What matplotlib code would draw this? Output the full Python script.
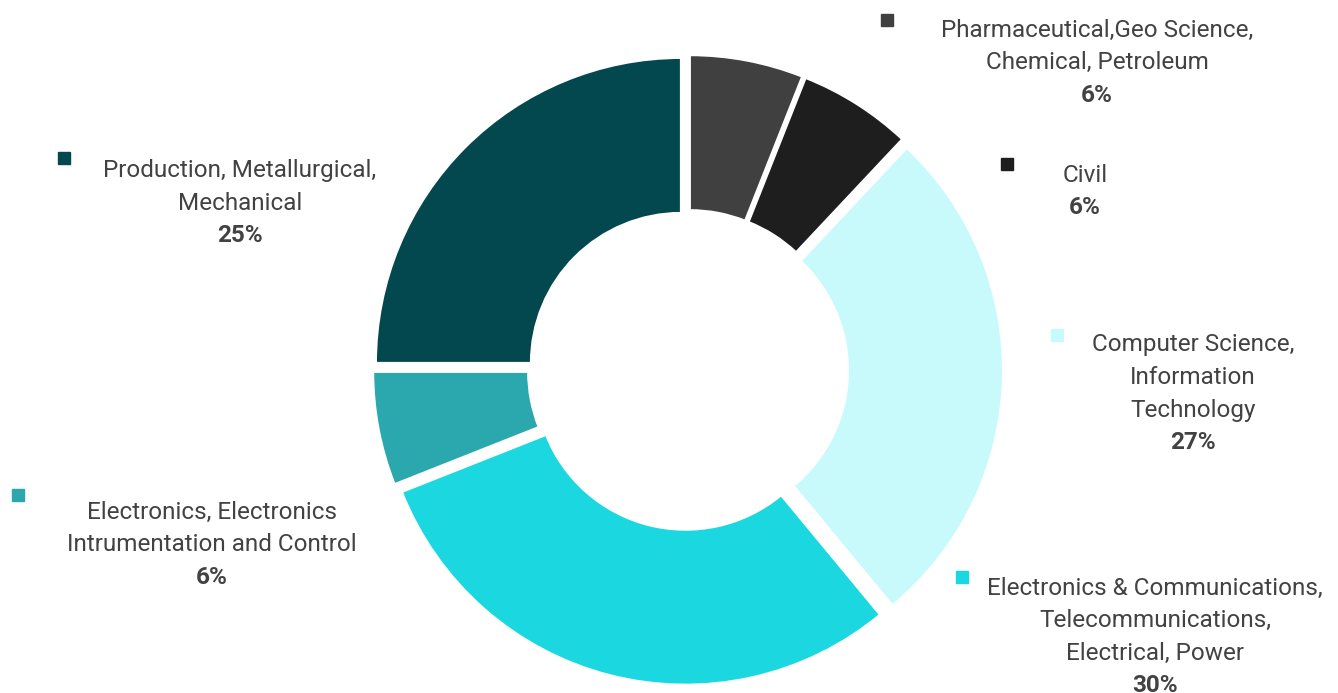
import matplotlib.pyplot as plt

plt.rcParams['font.family'] = ['Roboto', 'DejaVu Sans']

categories = ['Pharmaceutical,Geo Science,\nChemical, Petroleum',
              'Civil',
              'Computer Science,\nInformation\nTechnology',
              'Electronics & Communications,\nTelecommunications,\nElectrical, Power',
              'Electronics, Electronics\nIntrumentation and Control',
              'Production, Metallurgical,\nMechanical']
values = [6, 6, 27, 30, 6, 25]
colors = ['#404040', '#1e1e1e', '#c8fafc', '#1bd8e0', '#2aa8ae', '#02484e']

# layout in pixels (top-left origin): text centre x, first line y, marker x, marker y
text_x = [1097, 1085, 1193, 1155, 212, 240]
text_y = [30, 175, 345, 588, 512, 171]
mark_x = [887, 1007, 1057, 962, 18, 64]
mark_y = [20, 164, 335, 577, 495, 158]

W, H = 1338, 693
fig = plt.figure(figsize=(W / 100, H / 100), dpi=100)
ax = fig.add_axes([0, 0, 1, 1])

ax.pie(values, colors=colors, startangle=90, counterclock=False,
       center=(688, H - 370), radius=305, explode=[10] * len(values),
       wedgeprops=dict(width=155, edgecolor='white', linewidth=1.5))
ax.set_xlim(0, W)
ax.set_ylim(0, H)
ax.set_aspect('equal')
ax.axis('off')

line_h = 32.5
for name, v, c, tx, ty, mx, my in zip(categories, values, colors,
                                      text_x, text_y, mark_x, mark_y):
    n = name.count('\n') + 1
    for i, ln in enumerate(name.split('\n')):
        ax.text(tx, H - (ty + i * line_h), ln, ha='center', va='center',
                fontsize=17.5, color='#424242')
    ax.text(tx, H - (ty + n * line_h), '{}%'.format(v), ha='center',
            va='center', fontsize=17.5, color='#424242', fontweight='bold')
    ax.plot(mx, H - my, marker='s', markersize=9, color=c, linestyle='none')

fig.savefig('out.png', dpi=100)
